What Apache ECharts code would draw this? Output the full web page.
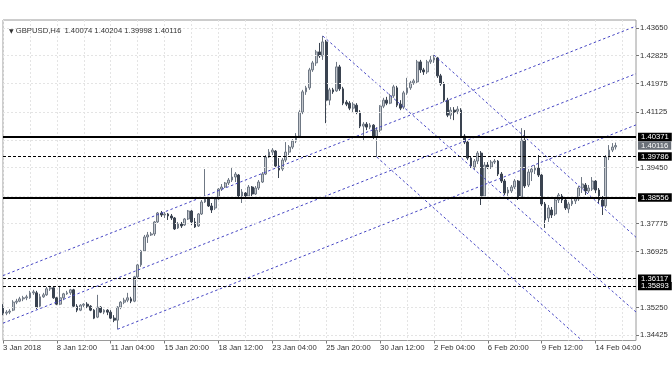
<!DOCTYPE html>
<html><head><meta charset="utf-8">
<script src="https://cdn.jsdelivr.net/npm/echarts@6.0.0/dist/echarts.min.js"></script>
<style>html,body{margin:0;padding:0;background:#fff}#c{width:672px;height:372px}</style>
</head><body><div id="c"></div>
<script>
// ---------- data ----------
const symbolLabel = 'GBPUSD,H4';
const xTickLabels = ['3 Jan 2018','8 Jan 12:00','11 Jan 04:00','15 Jan 20:00','18 Jan 12:00','23 Jan 04:00','25 Jan 20:00','30 Jan 12:00','2 Feb 04:00','6 Feb 20:00','9 Feb 12:00','14 Feb 04:00'];
const barsPerLabel = 16;
const slotCount = 189; // bar slots on the axis (incl. empty right margin)
// [open, close, low, high]
const ohlc = [
[1.3526,1.3508,1.3502,1.3535],[1.3508,1.3511,1.3502,1.3517],[1.3511,1.3514,1.3505,1.3520],[1.3517,1.3541,1.3514,1.3547],
[1.3541,1.3544,1.3535,1.3551],[1.3544,1.3551,1.3541,1.3557],[1.3551,1.3554,1.3544,1.3560],[1.3554,1.3557,1.3547,1.3563],
[1.3554,1.3569,1.3551,1.3575],[1.3569,1.3572,1.3563,1.3578],[1.3569,1.3526,1.3520,1.3575],[1.3529,1.3557,1.3523,1.3566],
[1.3557,1.3563,1.3554,1.3569],[1.3563,1.3581,1.3560,1.3587],[1.3581,1.3584,1.3575,1.3590],[1.3584,1.3554,1.3551,1.3587],
[1.3554,1.3535,1.3532,1.3557],[1.3535,1.3554,1.3532,1.3590],[1.3554,1.3566,1.3547,1.3569],[1.3566,1.3569,1.3563,1.3575],
[1.3569,1.3578,1.3563,1.3581],[1.3578,1.3529,1.3526,1.3581],[1.3529,1.3517,1.3511,1.3535],[1.3517,1.3532,1.3514,1.3535],
[1.3532,1.3535,1.3526,1.3538],[1.3535,1.3529,1.3523,1.3541],[1.3529,1.3517,1.3514,1.3532],[1.3517,1.3493,1.3490,1.3520],
[1.3496,1.3526,1.3493,1.3563],[1.3526,1.3511,1.3508,1.3529],[1.3511,1.3517,1.3505,1.3520],[1.3517,1.3511,1.3502,1.3520],
[1.3511,1.3493,1.3490,1.3517],[1.3493,1.3487,1.3481,1.3502],[1.3487,1.3526,1.3460,1.3529],[1.3526,1.3541,1.3520,1.3544],
[1.3541,1.3547,1.3535,1.3554],[1.3547,1.3554,1.3541,1.3569],[1.3551,1.3544,1.3538,1.3557],[1.3544,1.3617,1.3541,1.3620],
[1.3617,1.3653,1.3611,1.3656],[1.3653,1.3695,1.3647,1.3698],[1.3695,1.3737,1.3692,1.3743],[1.3737,1.3743,1.3719,1.3752],
[1.3743,1.3746,1.3740,1.3752],[1.3746,1.3782,1.3740,1.3785],[1.3782,1.3809,1.3779,1.3812],[1.3809,1.3803,1.3797,1.3815],
[1.3803,1.3806,1.3794,1.3812],[1.3806,1.3800,1.3788,1.3809],[1.3800,1.3794,1.3788,1.3806],[1.3794,1.3761,1.3758,1.3797],
[1.3764,1.3776,1.3761,1.3782],[1.3776,1.3770,1.3764,1.3782],[1.3773,1.3791,1.3770,1.3794],[1.3791,1.3815,1.3788,1.3818],
[1.3815,1.3782,1.3773,1.3818],[1.3782,1.3767,1.3764,1.3794],[1.3770,1.3806,1.3767,1.3809],[1.3806,1.3842,1.3803,1.3848],
[1.3842,1.3851,1.3839,1.3941],[1.3851,1.3830,1.3827,1.3854],[1.3830,1.3818,1.3809,1.3839],[1.3824,1.3851,1.3818,1.3857],
[1.3851,1.3881,1.3848,1.3884],[1.3881,1.3887,1.3875,1.3896],[1.3887,1.3899,1.3884,1.3902],[1.3899,1.3908,1.3893,1.3914],
[1.3908,1.3917,1.3902,1.3944],[1.3917,1.3926,1.3902,1.3932],[1.3923,1.3860,1.3854,1.3926],[1.3860,1.3872,1.3839,1.3881],
[1.3869,1.3860,1.3854,1.3872],[1.3860,1.3887,1.3857,1.3893],[1.3887,1.3866,1.3860,1.3890],[1.3866,1.3884,1.3863,1.3890],
[1.3884,1.3902,1.3878,1.3908],[1.3902,1.3926,1.3899,1.3932],[1.3926,1.3977,1.3923,1.3983],[1.3977,1.3992,1.3974,1.4001],
[1.3992,1.3998,1.3983,1.4004],[1.3995,1.3950,1.3944,1.3998],[1.3950,1.3938,1.3914,1.3974],[1.3941,1.3968,1.3935,1.3974],
[1.3968,1.3992,1.3962,1.4022],[1.3992,1.4007,1.3983,1.4013],[1.4007,1.4025,1.4001,1.4031],[1.4025,1.4040,1.4019,1.4049],
[1.4040,1.4112,1.4034,1.4118],[1.4112,1.4173,1.4106,1.4179],[1.4173,1.4185,1.4164,1.4191],[1.4185,1.4239,1.4179,1.4245],
[1.4239,1.4260,1.4233,1.4266],[1.4260,1.4293,1.4251,1.4299],[1.4293,1.4281,1.4275,1.4320],[1.4281,1.4323,1.4269,1.4341],
[1.4323,1.4148,1.4079,1.4329],[1.4148,1.4179,1.4133,1.4185],[1.4179,1.4173,1.4167,1.4185],[1.4176,1.4248,1.4173,1.4263],
[1.4248,1.4182,1.4176,1.4254],[1.4182,1.4139,1.4133,1.4188],[1.4142,1.4136,1.4130,1.4148],[1.4139,1.4124,1.4118,1.4145],
[1.4124,1.4136,1.4112,1.4142],[1.4133,1.4112,1.4106,1.4139],[1.4112,1.4070,1.4064,1.4118],[1.4070,1.4076,1.4025,1.4082],
[1.4076,1.4067,1.4058,1.4082],[1.4067,1.4073,1.4061,1.4079],[1.4073,1.4037,1.4031,1.4076],[1.4037,1.4058,1.3977,1.4067],
[1.4058,1.4130,1.4052,1.4133],[1.4130,1.4148,1.4124,1.4155],[1.4148,1.4139,1.4133,1.4158],[1.4139,1.4161,1.4136,1.4167],
[1.4161,1.4188,1.4155,1.4194],[1.4185,1.4133,1.4127,1.4191],[1.4136,1.4124,1.4118,1.4148],[1.4127,1.4170,1.4121,1.4176],
[1.4170,1.4185,1.4164,1.4215],[1.4185,1.4200,1.4179,1.4206],[1.4200,1.4206,1.4194,1.4212],[1.4203,1.4263,1.4197,1.4269],
[1.4263,1.4239,1.4230,1.4269],[1.4239,1.4233,1.4224,1.4245],[1.4233,1.4263,1.4227,1.4269],[1.4263,1.4269,1.4257,1.4281],
[1.4269,1.4275,1.4260,1.4284],[1.4275,1.4221,1.4215,1.4278],[1.4221,1.4197,1.4191,1.4227],[1.4197,1.4148,1.4142,1.4203],
[1.4148,1.4103,1.4097,1.4155],[1.4103,1.4118,1.4091,1.4127],[1.4118,1.4112,1.4088,1.4127],[1.4115,1.4121,1.4106,1.4130],
[1.4118,1.4040,1.4034,1.4124],[1.4040,1.4022,1.4016,1.4046],[1.4022,1.3974,1.3968,1.4028],[1.3974,1.3950,1.3944,1.3980],
[1.3947,1.3965,1.3938,1.3971],[1.3965,1.3989,1.3956,1.3995],[1.3989,1.3860,1.3833,1.3995],[1.3860,1.3953,1.3854,1.3962],
[1.3953,1.3947,1.3941,1.3962],[1.3947,1.3962,1.3941,1.3968],[1.3962,1.3965,1.3956,1.3971],[1.3965,1.3926,1.3920,1.3968],
[1.3926,1.3905,1.3899,1.3932],[1.3905,1.3869,1.3863,1.3911],[1.3869,1.3878,1.3848,1.3887],[1.3875,1.3887,1.3869,1.3893],
[1.3887,1.3905,1.3881,1.3911],[1.3905,1.3857,1.3848,1.3908],[1.3857,1.4028,1.3851,1.4064],[1.4028,1.3890,1.3884,1.4058],
[1.3893,1.3932,1.3887,1.3941],[1.3932,1.3941,1.3905,1.3950],[1.3938,1.3944,1.3926,1.3953],[1.3944,1.3923,1.3917,1.3983],
[1.3923,1.3836,1.3830,1.3926],[1.3836,1.3788,1.3764,1.3842],[1.3794,1.3824,1.3782,1.3833],[1.3818,1.3803,1.3794,1.3827],
[1.3806,1.3848,1.3800,1.3854],[1.3848,1.3863,1.3839,1.3869],[1.3860,1.3848,1.3839,1.3866],[1.3848,1.3824,1.3818,1.3854],
[1.3821,1.3836,1.3809,1.3842],[1.3836,1.3845,1.3830,1.3851],[1.3845,1.3854,1.3836,1.3860],[1.3851,1.3884,1.3845,1.3890],
[1.3884,1.3896,1.3869,1.3917],[1.3893,1.3875,1.3863,1.3899],[1.3875,1.3884,1.3869,1.3893],[1.3881,1.3905,1.3875,1.3917],
[1.3905,1.3878,1.3869,1.3908],[1.3878,1.3848,1.3839,1.3884],[1.3848,1.3830,1.3803,1.3860],[1.3830,1.3977,1.3824,1.3983],
[1.3977,1.3998,1.3968,1.4013],[1.3998,1.4007,1.3992,1.4019],[1.40074,1.40116,1.39998,1.40204]
];
const yMin = 1.34258, yMax = 1.43889;
const yTickLabels = [1.34425,1.35250,1.36925,1.37775,1.39450,1.41125,1.41975,1.42825,1.43650];
const gridLevels = [1.34425,1.35250,1.36100,1.36925,1.37775,1.38600,1.39450,1.40275,1.41125,1.41975,1.42825,1.43650];
const solidLevels = [1.40371,1.38556];
const dashedLevels = [1.39786,1.36117,1.35893];
const bidPrice = 1.40116;
// trend lines: [[barIndex, price],[barIndex, price]]
const trendLines = [
  [[0,1.36208],[188,1.43706]],
  [[0,1.34778],[188,1.42275]],
  [[34,1.34595],[188,1.40737]],
  [[95,1.43408],[188,1.35114]],
  [[128,1.42837],[188,1.37360]],
  [[111,1.39772],[188,1.32810]]
];

// ---------- chart ----------
const FONT = 'Liberation Sans, Arial, sans-serif';
const FS = 7.7;
const categories = Array.from({length: slotCount}, (_, i) => String(i));
const last = ohlc[ohlc.length - 1];
const header = symbolLabel + '  ' + [last[0], last[3], last[2], last[1]].map(v => v.toFixed(5)).join(' ');

const levelLabel = (bg) => ({
  show: true, position: 'end', distance: 2,
  formatter: p => Number(p.value).toFixed(5),
  color: '#fff', backgroundColor: bg, padding: [0, 3, 0, 3],
  fontFamily: FONT, fontSize: FS, lineHeight: 8.4
});

const series = [
  {
    type: 'line', data: [], silent: true, z: 0,
    markLine: {
      silent: true, symbol: 'none', animation: false, precision: 5,
      label: {show: false},
      lineStyle: {color: '#e4e4e4', type: [2, 2], width: 1},
      data: gridLevels.map(v => ({yAxis: v}))
    }
  },
  {
    type: 'candlestick', data: ohlc, barWidth: 2.3, z: 3,
    itemStyle: {color: '#c3c7cd', borderColor: '#6f7884', color0: '#3a4350', borderColor0: '#3a4350', borderWidth: 1}
  }
];
trendLines.forEach(t => series.push({
  type: 'line', data: t, symbol: 'none', silent: true, z: 4, clip: true,
  lineStyle: {color: '#4646c4', width: 1, type: [2.5, 2.5]}
}));
series.push({
  type: 'line', data: [], silent: true, z: 5,
  markLine: {
    silent: true, symbol: 'none', animation: false, precision: 5,
    data: [
      ...solidLevels.map(v => ({yAxis: v, lineStyle: {color: '#000', width: 2, type: 'solid'}, label: levelLabel('#000')})),
      ...dashedLevels.map(v => ({yAxis: v, lineStyle: {color: '#000', width: 1, type: [3, 2]}, label: levelLabel('#000')})),
      {yAxis: bidPrice, lineStyle: {color: 'rgba(0,0,0,0)', width: 0}, label: levelLabel('#6b7179')}
    ]
  }
});

const chart = echarts.init(document.getElementById('c'), null, {renderer: 'canvas'});
chart.setOption({
  animation: false,
  backgroundColor: '#fff',
  title: {
    text: '{t|▼} ' + header, left: 4, top: 22,
    textStyle: {fontFamily: FONT, fontSize: FS, fontWeight: 'normal', color: '#333',
      rich: {t: {fontSize: 6, color: '#333', fontFamily: 'DejaVu Sans'}}}
  },
  grid: {left: 2, right: 36, top: 20, bottom: 31.5, show: true, borderColor: '#9a9a9a', borderWidth: 1, backgroundColor: '#fff'},
  xAxis: {
    type: 'category', data: categories, boundaryGap: false,
    axisLine: {show: false},
    axisTick: {show: true, interval: barsPerLabel - 1, length: 3, lineStyle: {color: '#777'}},
    axisLabel: {
      interval: barsPerLabel - 1, align: 'left', margin: 3,
      formatter: (v, i) => xTickLabels[i / barsPerLabel] || '',
      fontFamily: FONT, fontSize: FS, color: '#333'
    },
    splitLine: {show: true, interval: barsPerLabel / 2 - 1, lineStyle: {color: '#e4e4e4', type: [2, 2]}}
  },
  yAxis: {
    type: 'value', position: 'right', min: yMin, max: yMax, scale: true,
    axisLine: {show: false},
    splitLine: {show: false},
    axisTick: {show: true, length: 3, customValues: yTickLabels, lineStyle: {color: '#777'}},
    axisLabel: {customValues: yTickLabels, formatter: v => Number(v).toFixed(5), margin: 4,
      fontFamily: FONT, fontSize: FS, color: '#333'}
  },
  series
});
</script>
</body></html>
